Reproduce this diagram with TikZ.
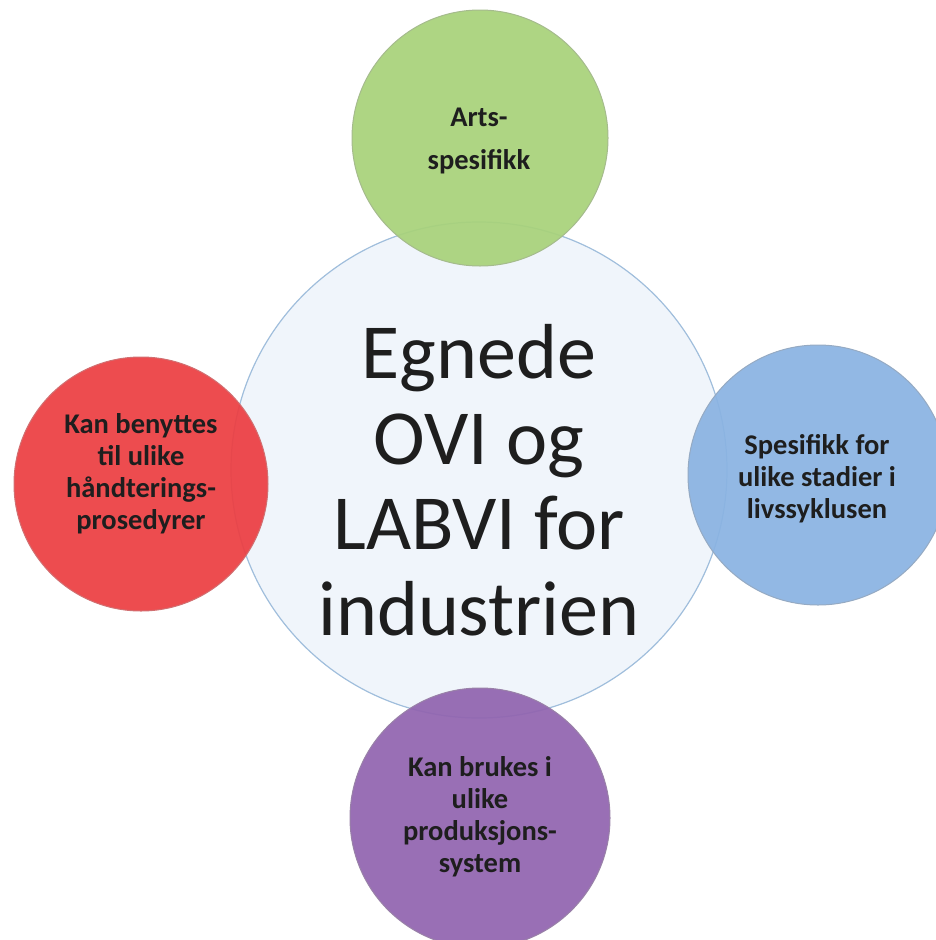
\documentclass[tikz,border=0pt]{standalone}
\usepackage{fontspec}
\setmainfont{Carlito}
\definecolor{cgreen}{RGB}{168,210,122}
\definecolor{cred}{RGB}{236,62,66}
\definecolor{cblue}{RGB}{138,179,226}
\definecolor{cpurple}{RGB}{145,100,175}
\definecolor{cfill}{RGB}{240,245,251}
\definecolor{cedge}{RGB}{160,190,220}
\definecolor{ctext}{RGB}{30,30,30}
\begin{document}
\begin{tikzpicture}[x=1pt,y=-1pt,
  bubble/.style={circle,inner sep=0pt,outer sep=0pt,fill opacity=0.93,line width=1pt},
  hub/.style={circle,inner sep=0pt,outer sep=0pt,fill=cfill,draw=cedge,line width=1.2pt},
  smalltext/.style={align=center,text=ctext,font=\bfseries\fontsize{28.5}{32}\selectfont},
  bigtext/.style={align=center,text=ctext,font=\fontsize{78}{85.5}\selectfont}]
\useasboundingbox (0,0) rectangle (936,940);
\begin{scope}
\clip (0,0) rectangle (936,940);
\node[hub,minimum size=496pt] (hub) at (479,470) {};
\node[bubble,fill=cgreen,draw=cgreen!75!black!70,minimum size=256pt] (green) at (480,138) {};
\node[bubble,fill=cred,draw=cred!80!black!70,minimum size=254pt] (red) at (141,484) {};
\node[bubble,fill=cblue,draw=cblue!75!black!70,minimum size=260pt] (blue) at (818,475) {};
\node[bubble,fill=cpurple,draw=cpurple!75!black!70,minimum size=260pt] (purple) at (480,818) {};
\end{scope}
\node[bigtext] (hubtext) at (479,480) {Egnede\\OVI og\\LABVI for\\industrien};
\node[smalltext,font=\bfseries\fontsize{28.5}{43}\selectfont] (greentext) at (479,141) {Arts-\\spesifikk};
\node[smalltext] (redtext) at (141,474) {Kan benyttes\\til ulike\\håndterings-\\prosedyrer};
\node[smalltext] (bluetext) at (817,479) {Spesifikk for\\ulike stadier i\\livssyklusen};
\node[smalltext] (purpletext) at (480,817) {Kan brukes i\\ulike\\produksjons-\\system};
\end{tikzpicture}
\end{document}
